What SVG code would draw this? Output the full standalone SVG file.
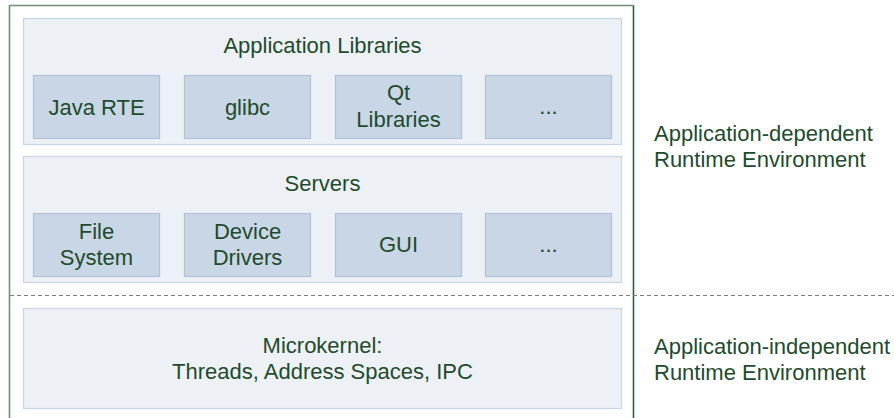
<svg xmlns="http://www.w3.org/2000/svg" width="894" height="418" viewBox="0 0 894 418">
  <style>
    .txt { font-family: "Liberation Sans", Arial, sans-serif; font-size: 22px; fill: #1f4b2c; }
    .mid { text-anchor: middle; }
    .panel { fill: #edf0f5; stroke: #c7d4e6; stroke-width: 1.2; }
    .box { fill: #c9d6e5; stroke: #b1c3da; stroke-width: 1.2; }
    .divider { stroke: #7d7d7d; stroke-width: 1; stroke-dasharray: 4 3; fill: none; }
  </style>

  <rect width="894" height="418" fill="#ffffff"/>

  <!-- system frame (open at the bottom) -->
  <g id="frame">
    <path d="M9.5 420 V5.5 H633.5" fill="none" stroke="#6f8f7b" stroke-width="1.6"/>
    <path d="M633.5 5.5 V420" fill="none" stroke="#335c3f" stroke-width="1.6"/>
  </g>

  <!-- boundary between the two runtime layers -->
  <g id="connectors">
    <line class="divider" x1="10" y1="295.5" x2="894" y2="295.5"/>
  </g>

  <!-- application libraries layer -->
  <g id="app-libraries">
    <rect class="panel" x="23.5" y="18.5" width="598" height="126"/>
    <text class="txt mid" x="322.5" y="52.5">Application Libraries</text>
  </g>
  <g id="java-rte">
    <rect class="box" x="33.5" y="75.5" width="126" height="63"/>
    <text class="txt mid" x="96.5" y="114.5">Java RTE</text>
  </g>
  <g id="glibc">
    <rect class="box" x="184.5" y="75.5" width="126" height="63"/>
    <text class="txt mid" x="247.5" y="114.5">glibc</text>
  </g>
  <g id="qt-libraries">
    <rect class="box" x="335.5" y="75.5" width="126" height="63"/>
    <text class="txt mid" x="398.5" y="100">Qt</text>
    <text class="txt mid" x="398.5" y="127">Libraries</text>
  </g>
  <g id="lib-more">
    <rect class="box" x="485.5" y="75.5" width="126" height="63"/>
    <text class="txt mid" x="548.5" y="113.5">...</text>
  </g>

  <!-- servers layer -->
  <g id="servers">
    <rect class="panel" x="23.5" y="156.5" width="598" height="126"/>
    <text class="txt mid" x="322.5" y="190.5">Servers</text>
  </g>
  <g id="file-system">
    <rect class="box" x="33.5" y="213.5" width="126" height="63"/>
    <text class="txt mid" x="96.5" y="238.5">File</text>
    <text class="txt mid" x="96.5" y="264.5">System</text>
  </g>
  <g id="device-drivers">
    <rect class="box" x="184.5" y="213.5" width="126" height="63"/>
    <text class="txt mid" x="247.5" y="238.5">Device</text>
    <text class="txt mid" x="247.5" y="264.5">Drivers</text>
  </g>
  <g id="gui">
    <rect class="box" x="335.5" y="213.5" width="126" height="63"/>
    <text class="txt mid" x="398.5" y="252">GUI</text>
  </g>
  <g id="server-more">
    <rect class="box" x="485.5" y="213.5" width="126" height="63"/>
    <text class="txt mid" x="548.5" y="251.5">...</text>
  </g>

  <!-- microkernel layer -->
  <g id="microkernel">
    <rect class="panel" x="23.5" y="308.5" width="598" height="100"/>
    <text class="txt mid" x="322.5" y="353">Microkernel:</text>
    <text class="txt mid" x="322.5" y="379">Threads, Address Spaces, IPC</text>
  </g>

  <!-- layer descriptions -->
  <g id="label-dependent">
    <text class="txt" x="654" y="141">Application-dependent</text>
    <text class="txt" x="654" y="167">Runtime Environment</text>
  </g>
  <g id="label-independent">
    <text class="txt" x="654" y="354">Application-independent</text>
    <text class="txt" x="654" y="380">Runtime Environment</text>
  </g>
</svg>
